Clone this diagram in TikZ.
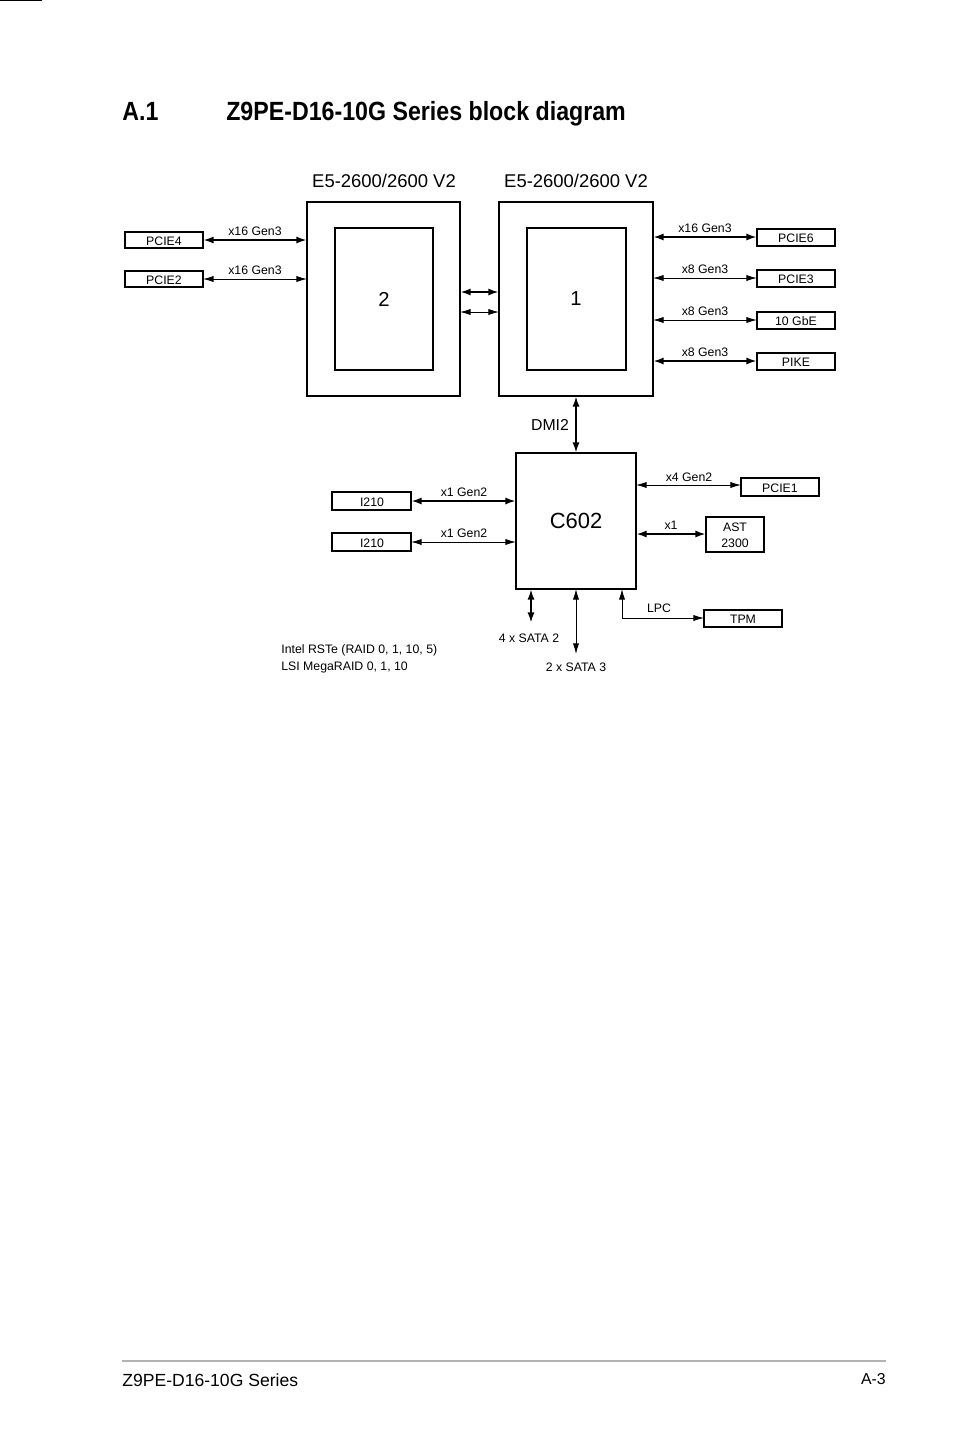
\documentclass[tikz,border=0pt]{standalone}
\usepackage{fontspec}
\setmainfont{Liberation Sans}
\usetikzlibrary{arrows.meta}
\begin{document}
\begin{tikzpicture}[x=0.02cm,y=-0.02cm,
  box/.style={draw,line width=0.6pt,inner sep=0pt},
  lab/.style={font=\fontsize{7}{8}\selectfont,inner sep=0pt},
  thin/.style={line width=0.5pt,{Latex[length=6pt,width=3.5pt]}-{Latex[length=6pt,width=3.5pt]}},
  thick/.style={line width=1.3pt,{Latex[length=6pt,width=4pt]}-{Latex[length=6pt,width=4pt]}},
  single/.style={line width=0.5pt,-{Latex[length=6pt,width=3.5pt]}}]
\useasboundingbox (0,0) rectangle (954,1438);
\node[anchor=base west,font=\bfseries\fontsize{15}{18}\selectfont,inner sep=0pt,xscale=0.88] (t1) at (122,120) {A.1};
\node[anchor=base west,font=\bfseries\fontsize{15}{18}\selectfont,inner sep=0pt,xscale=0.88] (t2) at (226,120) {Z9PE-D16-10G Series block diagram};
% CPUs
\draw[box] (307,202) rectangle (460,396); \draw[box] (335,228) rectangle (433,370);
\draw[box] (499,202) rectangle (653,396); \draw[box] (527,228) rectangle (626,370);
\coordinate (c2) at (384,299); \coordinate (c1) at (576,299);
\node[font=\fontsize{11.5}{13}\selectfont] (n2) at (c2) {2};
\node[font=\fontsize{11.5}{13}\selectfont] (n1) at (c1) {1};
\node[font=\fontsize{10.5}{12}\selectfont] (l2) at (384,181) {E5-2600/2600 V2};
\node[font=\fontsize{10.5}{12}\selectfont] (l1) at (576,181) {E5-2600/2600 V2};
% left boxes
\node[box,minimum width=78\pgflinewidth,lab] at (0,0) {};
\foreach \n/\t/\y in {p4/PCIE4/240,p2/PCIE2/279}{
  \draw[box] (125,\y-8) rectangle (203,\y+8);
  \node[lab] (\n) at (164,\y+1) {\t};
  \coordinate (\n e) at (203,\y); \coordinate (\n c) at (307,\y);
  \node[lab] at (255,\y-9) {x16 Gen3};}
\draw[thick] (p4e) -- (p4c);
\draw[thin] (p2e) -- (p2c);
\coordinate (q1) at (460,292); \coordinate (q2) at (499,292);
\coordinate (q3) at (460,312); \coordinate (q4) at (499,312);
\draw[thick] (q1) -- (q2); \draw[thin] (q3) -- (q4);
% right boxes
\foreach \n/\t/\y/\l in {p6/PCIE6/237/x16 Gen3,p3/PCIE3/278/x8 Gen3,gb/10 GbE/320/x8 Gen3,pk/PIKE/361/x8 Gen3}{
  \draw[box] (757,\y-8) rectangle (835,\y+9);
  \node[lab] (\n) at (796,\y+1) {\t};
  \coordinate (\n w) at (757,\y); \coordinate (\n c) at (653,\y);
  \node[lab] at (705,\y-9) {\l};}
\draw[thick] (p6c) -- (p6w);
\draw[thin] (p3c) -- (p3w);
\draw[thin] (gbc) -- (gbw);
\draw[thick] (pkc) -- (pkw);
% DMI
\coordinate (d1) at (576,396); \coordinate (d2) at (576,453);
\draw[thick] (d1) -- (d2);
\node[font=\fontsize{9}{10}\selectfont] (dmi) at (550,425) {DMI2};
% C602
\draw[box] (516,453) rectangle (636,589);
\node[font=\fontsize{12.5}{14}\selectfont] (pch) at (576,521) {C602};
\foreach \n/\y in {ia/501,ib/542}{
  \draw[box] (332,\y-9) rectangle (411,\y+9);
  \node[lab] (\n) at (372,\y+1) {I210};
  \coordinate (\n e) at (411,\y); \coordinate (\n c) at (516,\y);
  \node[lab] at (464,\y-9) {x1 Gen2};}
\draw[thick] (iae) -- (iac);
\draw[thin] (ibe) -- (ibc);
\draw[box] (741,478) rectangle (819,496);
\node[lab] (pe1) at (780,488) {PCIE1};
\coordinate (a1) at (636,485); \coordinate (a2) at (741,485);
\draw[thin] (a1) -- (a2);
\node[lab] at (689,477) {x4 Gen2};
\draw[box,line width=0.9pt] (706,517) rectangle (764,552);
\node[lab,align=center] (ast) at (735,535) {AST\\[1pt]2300};
\coordinate (b1) at (636,534); \coordinate (b2) at (706,534);
\draw[thick] (b1) -- (b2);
\node[lab] at (671,525) {x1};
% bottom
\coordinate (s1) at (531,589); \coordinate (s2) at (531,623);
\draw[thick] (s1) -- (s2);
\node[lab] (sata2) at (529,638) {4 x SATA 2};
\coordinate (s3) at (576,589); \coordinate (s4) at (576,654);
\draw[thin] (s3) -- (s4);
\node[lab] (sata3) at (576,667) {2 x SATA 3};
\draw[box] (704,610) rectangle (782,627);
\node[lab] (tpm) at (743,619) {TPM};
\coordinate (l0) at (622,589); \coordinate (l1) at (704,618);
\draw[line width=0.5pt,{Latex[length=6pt,width=3.5pt]}-{Latex[length=6pt,width=3.5pt]}] (l0) |- (l1);
\node[lab] at (659,608) {LPC};
\node[lab,anchor=west,align=left] (raid) at (281,659) {Intel RSTe (RAID 0, 1, 10, 5)\\[2pt]LSI MegaRAID 0, 1, 10};
% footer
\coordinate (f1) at (122,1361); \coordinate (f2) at (886,1361);
\draw[gray!60,line width=1.2pt] (f1) -- (f2);
\node[anchor=base west,inner sep=0pt,font=\fontsize{10}{12}\selectfont] (ft) at (122,1386) {Z9PE-D16-10G Series};
\node[anchor=base east,inner sep=0pt,font=\fontsize{9}{11}\selectfont] (pg) at (886,1384) {A-3};
\end{tikzpicture}
\end{document}
